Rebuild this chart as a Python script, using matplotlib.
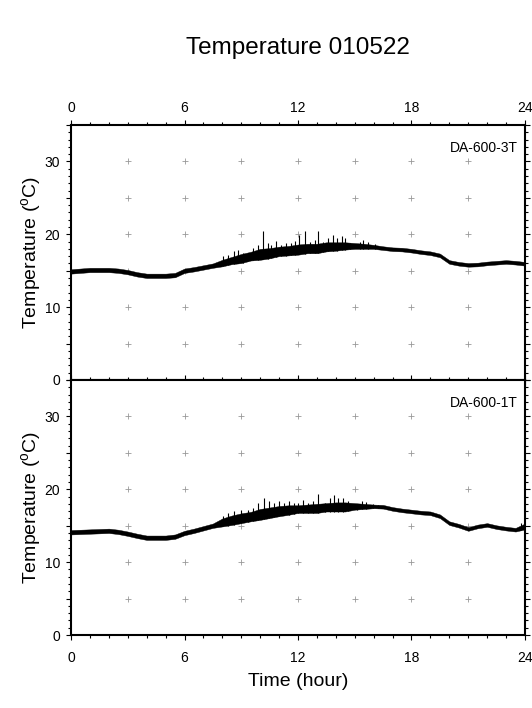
import numpy as np
import matplotlib
matplotlib.use("Agg")
import matplotlib.pyplot as plt
from matplotlib.ticker import MultipleLocator, FuncFormatter

plt.rcParams['font.family'] = ['Liberation Sans', 'DejaVu Sans']

# half-hour readings, 0 .. 24 h
hours = np.arange(0, 24.01, 0.5)

# DA-600-3T: lower / upper edge of the dense part of the trace
lo_3t = [14.6, 14.7, 14.8, 14.8, 14.8, 14.7, 14.5, 14.2, 14.0, 14.0, 14.0, 14.1,
         14.7, 14.9, 15.15, 15.4, 15.6, 15.9, 16.05, 16.4, 16.5, 16.7, 17.0, 17.1,
         17.2, 17.4, 17.4, 17.65, 17.75, 17.9, 18.0, 18.0, 18.0, 17.85, 17.7, 17.65,
         17.5, 17.3, 17.15, 16.85, 15.95, 15.7, 15.55, 15.6, 15.75, 15.85, 15.95, 15.85, 15.7]
hi_3t = [15.2, 15.3, 15.4, 15.4, 15.4, 15.3, 15.1, 14.8, 14.6, 14.6, 14.6, 14.7,
         15.3, 15.5, 15.75, 16.0, 16.5, 16.9, 17.3, 17.6, 18.0, 18.1, 18.3, 18.4,
         18.6, 18.7, 18.7, 18.9, 18.9, 18.9, 18.8, 18.7, 18.55, 18.35, 18.2, 18.15,
         18.0, 17.8, 17.65, 17.35, 16.45, 16.2, 16.05, 16.1, 16.25, 16.35, 16.45, 16.35, 16.2]
# spikes sticking out above the trace (hour, peak)
spike_h_3t = [8.02, 8.28, 8.63, 8.81, 9.07, 9.34, 9.6, 9.87, 10.13, 10.39, 10.57,
              10.83, 11.1, 11.36, 11.63, 11.84, 12.07, 12.37, 12.63, 12.9, 13.07,
              13.34, 13.6, 13.87, 14.04, 14.3, 14.48, 14.74, 15.27, 15.45, 15.71, 16.07]
spike_t_3t = [16.96, 17.2, 17.65, 17.88, 17.42, 17.42, 18.1, 18.57, 20.5, 18.8, 18.57,
              19.03, 18.57, 18.8, 18.8, 19.03, 19.94, 20.4, 19.0, 19.25, 20.4,
              19.0, 19.5, 19.9, 19.5, 19.7, 19.5, 18.8, 19.0, 19.25, 19.0, 18.66]

# DA-600-1T
lo_1t = [13.8, 13.85, 13.9, 13.95, 14.0, 13.85, 13.6, 13.3, 13.05, 13.05, 13.05, 13.2,
         13.7, 14.0, 14.35, 14.7, 14.9, 15.1, 15.35, 15.6, 15.8, 16.05, 16.3, 16.5,
         16.75, 16.75, 16.75, 16.95, 16.95, 16.95, 17.2, 17.3, 17.4, 17.35, 17.05, 16.85,
         16.7, 16.55, 16.45, 16.05, 15.1, 14.75, 14.3, 14.65, 14.85, 14.55, 14.35, 14.2, 14.5]
hi_1t = [14.4, 14.45, 14.5, 14.55, 14.6, 14.45, 14.2, 13.9, 13.65, 13.65, 13.65, 13.8,
         14.3, 14.6, 14.95, 15.3, 16.0, 16.4, 16.7, 16.9, 17.3, 17.5, 17.7, 17.8,
         17.8, 17.9, 18.0, 18.1, 18.2, 18.2, 18.1, 18.0, 17.9, 17.85, 17.55, 17.35,
         17.2, 17.05, 16.95, 16.55, 15.6, 15.25, 14.8, 15.15, 15.35, 15.05, 14.85, 14.7, 15.3]
spike_h_1t = [8.02, 8.28, 8.63, 8.99, 9.34, 9.6, 9.87, 10.18, 10.48, 10.75, 11.01,
              11.28, 11.54, 11.8, 12.02, 12.28, 12.54, 12.81, 13.07, 13.42, 13.69,
              13.92, 14.13, 14.39, 14.66, 15.1, 15.36, 15.62, 15.97, 16.23, 23.8]
spike_t_1t = [16.3, 16.74, 16.96, 17.2, 17.2, 17.4, 18.1, 18.8, 18.35, 18.1, 18.35,
              18.1, 18.35, 18.1, 18.1, 18.47, 18.1, 18.35, 19.4, 18.1, 18.8,
              19.25, 18.8, 18.8, 18.35, 17.9, 18.35, 18.2, 18.0, 17.9, 15.4]

panels = [("DA-600-3T", lo_3t, hi_3t, spike_h_3t, spike_t_3t),
          ("DA-600-1T", lo_1t, hi_1t, spike_h_1t, spike_t_1t)]

cross_x = np.arange(3, 22, 3)
cross_y = np.arange(5, 31, 5)

fig = plt.figure(figsize=(5.32, 7.08), dpi=100)
fig.text(0.560, 0.932, "Temperature 010522", ha="center", va="center", fontsize=17.5)

axes = [fig.add_axes([0.1335, 0.4633, 0.8533, 0.3601]),
        fig.add_axes([0.1335, 0.1031, 0.8533, 0.3602])]

for i, (ax, (name, lo, hi, sh, st)) in enumerate(zip(axes, panels)):
    gx, gy = np.meshgrid(cross_x, cross_y)
    ax.plot(gx.ravel(), gy.ravel(), "+", color="#999999", ms=5, mew=0.6, zorder=1)

    ax.fill_between(hours, lo, hi, color="black", lw=0.3, zorder=3)
    base = np.interp(sh, hours, lo)
    ax.vlines(sh, base, st, color="black", lw=0.8, zorder=3)

    ax.set_xlim(0, 24)
    ax.set_ylim(0, 35)
    ax.xaxis.set_major_locator(MultipleLocator(6))
    ax.xaxis.set_minor_locator(MultipleLocator(1))
    ax.yaxis.set_major_locator(MultipleLocator(5))
    ax.yaxis.set_minor_locator(MultipleLocator(1))
    ax.yaxis.set_major_formatter(FuncFormatter(
        lambda v, p: "%d" % v if int(round(v)) % 10 == 0 else ""))

    ax.tick_params(which="both", direction="out", top=True, right=True,
                   width=0.8, labelsize=10)
    ax.tick_params(which="major", length=3.6)
    ax.tick_params(which="minor", length=2.2)
    ax.tick_params(axis="y", pad=4.3)
    for s in ax.spines.values():
        s.set_linewidth(1.5)

    ax.set_ylabel(r"Temperature ($\mathregular{^o}$C)", fontsize=14)
    ax.yaxis.set_label_coords(-0.062, 0.5)
    ax.text(1 - 7 / 454, 1 - 23 / 255, name, transform=ax.transAxes,
            ha="right", va="center", fontsize=10)

    if i == 0:
        ax.tick_params(axis="x", labeltop=True, labelbottom=False, pad=3.6)
    else:
        ax.tick_params(axis="x", labeltop=False, labelbottom=True, pad=8)
        ax.set_xlabel("Time (hour)", fontsize=14)
        ax.xaxis.set_label_coords(0.5, -0.149)

fig.savefig("out.png", dpi=100)
